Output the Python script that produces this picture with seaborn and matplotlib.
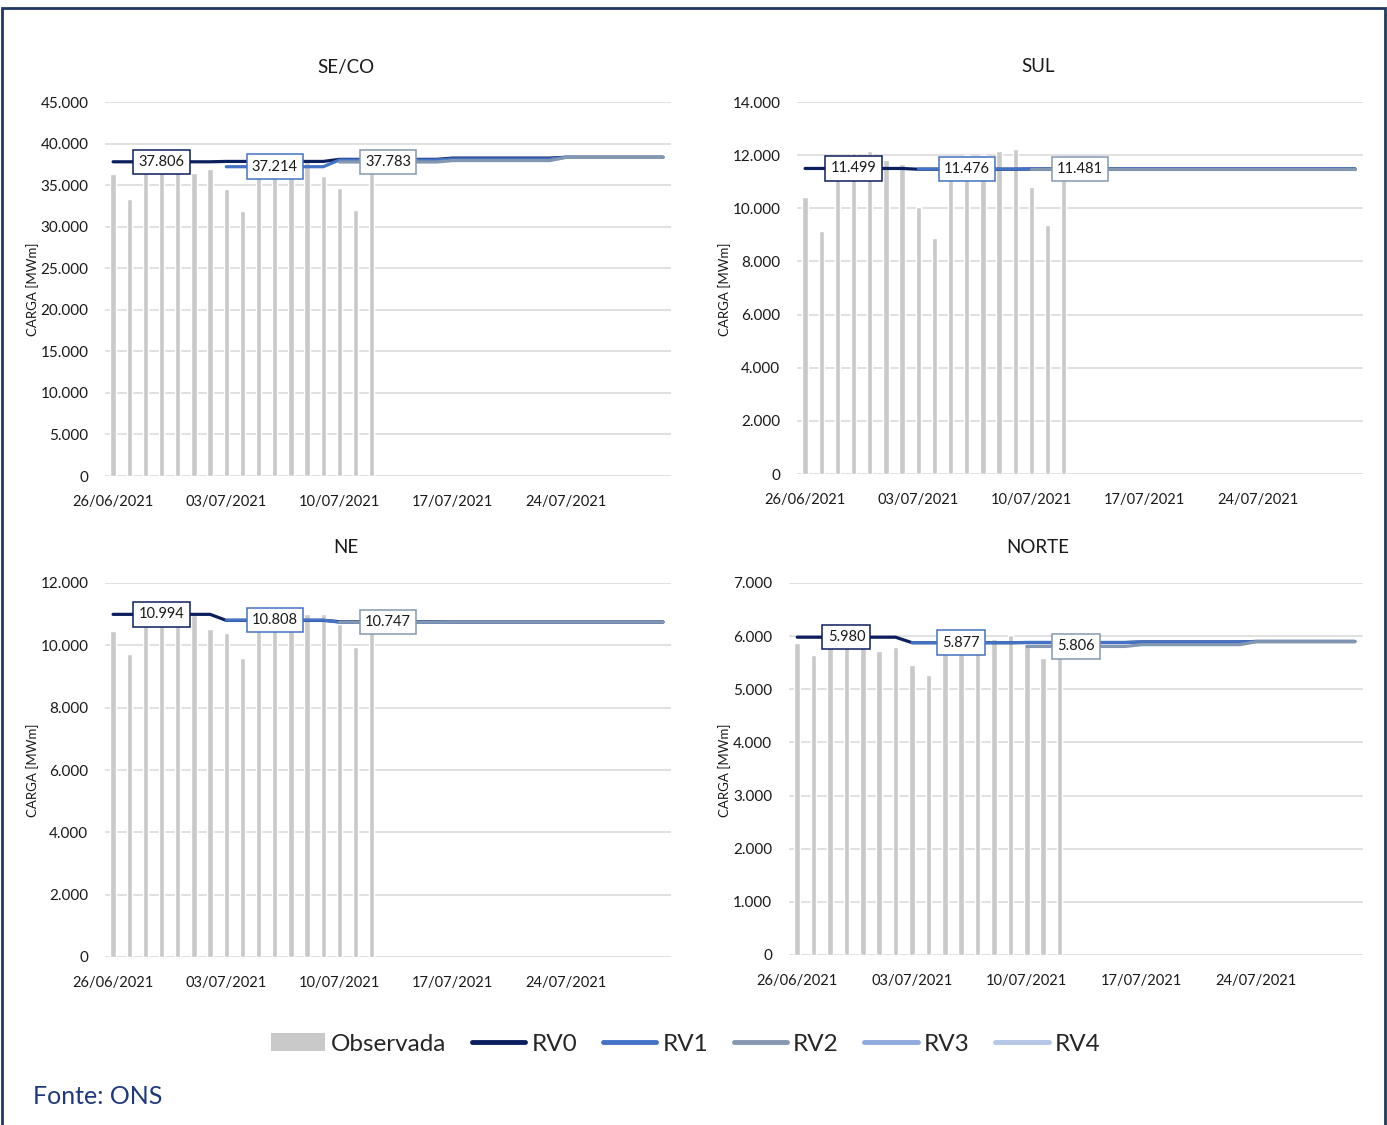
import numpy as np
import pandas as pd
import matplotlib
matplotlib.use("Agg")
import matplotlib.pyplot as plt
from matplotlib.patches import Patch, Rectangle
from matplotlib.lines import Line2D
from matplotlib.ticker import FuncFormatter, MultipleLocator
import seaborn as sns

# ---- data -------------------------------------------------------------
dates = pd.date_range("2021-06-26", "2021-07-30", freq="D")
tick_pos = [0, 7, 14, 21, 28]
tick_labels = ["26/06/2021", "03/07/2021", "10/07/2021", "17/07/2021", "24/07/2021"]

regions = ["SE/CO", "SUL", "NE", "NORTE"]
revisions = ["RV0", "RV1", "RV2", "RV3", "RV4"]

# observed daily load (MWm), 26/06 .. 12/07
obs_seco = [36300, 33300, 37000, 37300, 37000, 36400, 36900, 34500, 31900,
            36600, 37100, 37300, 37800, 36100, 34600, 32000, 36500]
obs_sul = [10410, 9160, 11300, 12090, 12150, 11820, 11650, 10060, 8880,
           11400, 12000, 12000, 12160, 12220, 10790, 9370, 11200]
obs_ne = [10460, 9720, 10700, 10900, 10900, 10970, 10520, 10410, 9600,
          10600, 10800, 10900, 11000, 11000, 10680, 9960, 10500]
obs_norte = [5880, 5650, 5800, 5850, 5850, 5720, 5800, 5460, 5260,
             5750, 5850, 5900, 5950, 6020, 5830, 5580, 5800]

# weekly load forecasts per revision (operative weeks starting Saturday)
nan = np.nan
fc_seco = {
    "RV0": [37806, 37850, 38100, 38250, 38350],
    "RV1": [nan, 37214, 38030, 38150, 38350],
    "RV2": [nan, nan, 37783, 37950, 38330],
}
fc_sul = {
    "RV0": [11499, 11470, 11480, 11480, 11480],
    "RV1": [nan, 11476, 11480, 11480, 11480],
    "RV2": [nan, nan, 11481, 11481, 11481],
}
fc_ne = {
    "RV0": [10994, 10800, 10760, 10750, 10750],
    "RV1": [nan, 10808, 10740, 10750, 10750],
    "RV2": [nan, nan, 10747, 10750, 10750],
}
fc_norte = {
    "RV0": [5980, 5877, 5880, 5890, 5900],
    "RV1": [nan, 5877, 5880, 5890, 5900],
    "RV2": [nan, nan, 5806, 5840, 5895],
}

ylims = {"SE/CO": (45000, 5000), "SUL": (14000, 2000),
         "NE": (12000, 2000), "NORTE": (7000, 1000)}

colors = {"RV0": "#0B1F5E", "RV1": "#4472C4", "RV2": "#8497B0",
          "RV3": "#8FAADC", "RV4": "#B4C7E7"}
bar_color = "#C9C9C9"
navy = "#1F3A7A"

# ---- long tables -------------------------------------------------------
obs_by_region = dict(zip(regions, [obs_seco, obs_sul, obs_ne, obs_norte]))
fc_by_region = dict(zip(regions, [fc_seco, fc_sul, fc_ne, fc_norte]))

obs_rows = []
for reg, vals in obs_by_region.items():
    for i, v in enumerate(vals):
        obs_rows.append({"region": reg, "dia": i, "carga": v})
obs_df = pd.DataFrame(obs_rows)

fc_rows = []
for reg, revs in fc_by_region.items():
    for rv, weeks in revs.items():
        daily = np.repeat(weeks, 7)
        for i, v in enumerate(daily):
            if not np.isnan(v):
                fc_rows.append({"region": reg, "rev": rv, "dia": i, "carga": v})
fc_df = pd.DataFrame(fc_rows)


def br_number(v):
    return f"{v:,.0f}".replace(",", ".")


# ---- figure ------------------------------------------------------------
sns.set_theme(style="white")
plt.rcParams["font.family"] = ["Lato", "DejaVu Sans"]

W, H = 1387, 1125
fig = plt.figure(figsize=(W / 100, H / 100), dpi=100)
fig.patch.set_facecolor("white")


def frac(left, right, top, bottom):
    return [left / W, 1 - bottom / H, (right - left) / W, (bottom - top) / H]


boxes = {
    "SE/CO": frac(105, 671, 102, 476),
    "SUL": frac(797, 1363, 102, 474),
    "NE": frac(105, 671, 583, 957),
    "NORTE": frac(789, 1363, 583, 955),
}
title_xy = {"SE/CO": (346, 67), "SUL": (1038, 67), "NE": (346, 548), "NORTE": (1038, 548)}
ylabel_xy = {"SE/CO": (33, 289), "SUL": (725, 289), "NE": (33, 770), "NORTE": (725, 770)}

thousands = FuncFormatter(lambda v, p: br_number(v))

for reg in regions:
    ax = fig.add_axes(boxes[reg])
    sub_obs = obs_df[obs_df.region == reg]
    sns.barplot(data=sub_obs, x="dia", y="carga", native_scale=True,
                color=bar_color, saturation=1, width=0.33, errorbar=None,
                ax=ax, zorder=2)
    sub_fc = fc_df[fc_df.region == reg]
    present = [r for r in revisions if r in sub_fc.rev.unique()]
    sns.lineplot(data=sub_fc, x="dia", y="carga", hue="rev", hue_order=present,
                 palette=colors, linewidth=2.3, legend=False, ax=ax, zorder=3)

    # value labels at the fourth day of each revision's first week
    for k, rv in enumerate(present):
        val = fc_by_region[reg][rv][k]
        ax.text(k * 7 + 3, val, br_number(val),
                ha="center", va="center", fontsize=10.5, color="#1A1A1A", zorder=5,
                bbox=dict(boxstyle="square,pad=0.36", fc="white", ec=colors[rv], lw=1.1))

    top, step = ylims[reg]
    ax.set_ylim(0, top)
    ax.yaxis.set_major_locator(MultipleLocator(step))
    ax.yaxis.set_major_formatter(thousands)
    ax.set_xlim(-0.5, 34.5)
    ax.set_xticks(tick_pos)
    ax.set_xticklabels(tick_labels)
    ax.set_xlabel("")
    ax.set_ylabel("")
    ax.tick_params(axis="x", length=0, pad=14, labelsize=10.5, colors="#1A1A1A")
    ax.tick_params(axis="y", length=0, pad=12, labelsize=11, colors="#1A1A1A")
    ax.grid(axis="y", color="#D9D9D9", linewidth=1.1)
    ax.grid(axis="x", visible=False)
    ax.set_axisbelow(True)
    for s in ax.spines.values():
        s.set_visible(False)
    ax.set_facecolor("none")

    tx, ty = title_xy[reg]
    fig.text(tx / W, 1 - ty / H, reg, ha="center", va="center", fontsize=13.5, color="#1A1A1A")
    lx, ly = ylabel_xy[reg]
    fig.text(lx / W, 1 - ly / H, "CARGA [MWm]", ha="center", va="center",
             rotation=90, fontsize=9.5, color="#1A1A1A")

# ---- legend ------------------------------------------------------------
handles = [Patch(facecolor=bar_color, edgecolor="none", label="Observada")]
for rv in revisions:
    handles.append(Line2D([], [], color=colors[rv], linewidth=3.5, label=rv))
fig.legend(handles=handles, loc="center", bbox_to_anchor=(686 / W, 1 - 1044 / H),
           ncol=6, frameon=False, fontsize=17.5, handlelength=2.2, handleheight=0.7,
           handletextpad=0.25, columnspacing=1.05)

fig.text(33 / W, 1 - 1096 / H, "Fonte: ONS", ha="left", va="center",
         fontsize=18, color=navy)

# outer frame
fig.patches.append(Rectangle((2 / W, -0.01), (1385 - 2) / W, 1 - 8 / H + 0.01,
                             transform=fig.transFigure, fill=False,
                             edgecolor="#1F3864", linewidth=2))

fig.savefig("out.png", dpi=100, facecolor="white")
